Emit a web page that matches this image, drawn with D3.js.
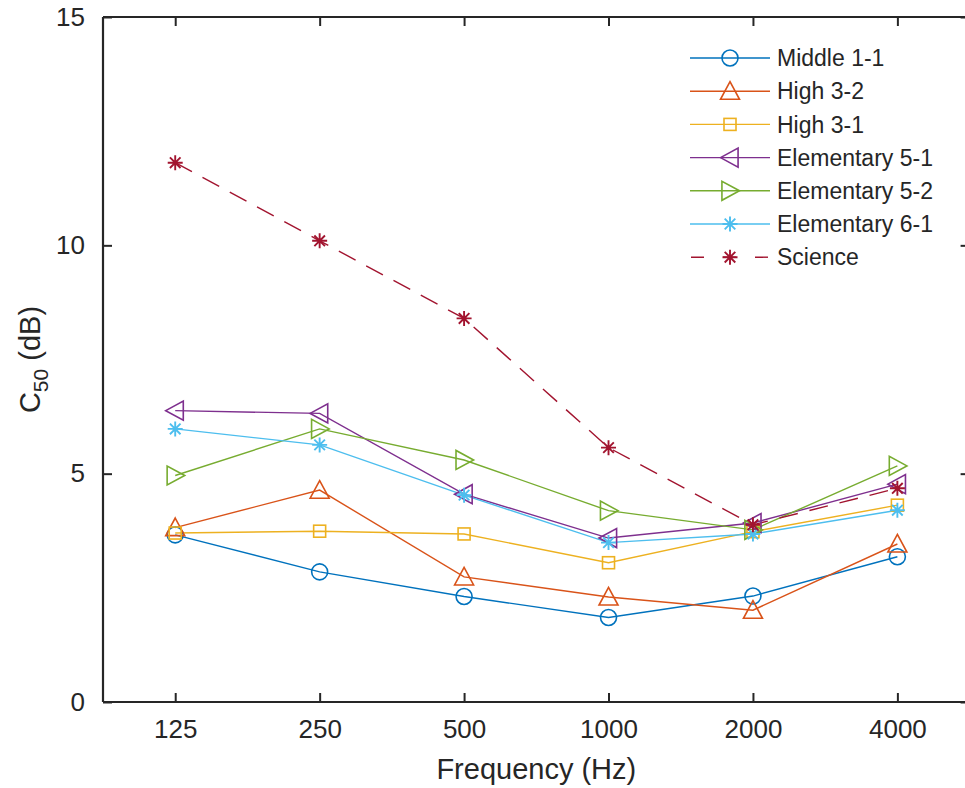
<!DOCTYPE html>
<html><head><meta charset="utf-8">
<script src="https://cdn.jsdelivr.net/npm/d3@7"></script>
<style>body{margin:0;background:#fff}svg{display:block}text{font-family:"Liberation Sans",Arial,sans-serif;fill:#262626}</style>
</head><body><svg id="c" width="965" height="788"></svg>
<script>
const categories = ["125","250","500","1000","2000","4000"];
const seriesNames = ["Middle 1-1","High 3-2","High 3-1","Elementary 5-1","Elementary 5-2","Elementary 6-1","Science"];
const middle11 = [3.66,2.85,2.31,1.85,2.32,3.18];
const high32 = [3.82,4.64,2.74,2.30,2.01,3.46];
const high31 = [3.70,3.74,3.68,3.05,3.73,4.31];
const elem51 = [6.38,6.32,4.55,3.59,3.92,4.77];
const elem52 = [4.96,5.98,5.30,4.19,3.77,5.17];
const elem61 = [5.98,5.63,4.53,3.49,3.68,4.20];
const science = [11.81,10.10,8.40,5.57,3.88,4.68];
const yTicks = [0,5,10,15];

const colors = ["#0072BD","#D95319","#EDB120","#7E2F8E","#77AC30","#4DBEEE","#A2142F"];
const markers = ["circle","triUp","square","triLeft","triRight","star","star"];
const dashes = [null,null,null,null,null,null,"19,12"];
const values = [middle11,high32,high31,elem51,elem52,elem61,science];

const svg = d3.select("#c");
const L=103, R=969.6, T=17, B=702;
const x = d3.scalePoint().domain(categories).range([L,R]).padding(0.5);
const y = d3.scaleLinear().domain([0,15]).range([B,T]);

function drawMarker(g, type, cx, cy, color){
  const sw=1.6;
  if(type==="circle"){
    g.append("circle").attr("cx",cx).attr("cy",cy).attr("r",8).attr("fill","none").attr("stroke",color).attr("stroke-width",sw);
  } else if(type==="square"){
    g.append("rect").attr("x",cx-6).attr("y",cy-6).attr("width",12).attr("height",12).attr("fill","none").attr("stroke",color).attr("stroke-width",sw);
  } else if(type==="triUp"){
    const s=9.5;
    g.append("path").attr("d",`M${cx},${cy-s}L${cx+s},${cy+s*0.85}L${cx-s},${cy+s*0.85}Z`).attr("fill","none").attr("stroke",color).attr("stroke-width",sw);
  } else if(type==="triLeft"){
    const s=9.5;
    g.append("path").attr("d",`M${cx-s},${cy}L${cx+s*0.85},${cy-s}L${cx+s*0.85},${cy+s}Z`).attr("fill","none").attr("stroke",color).attr("stroke-width",sw);
  } else if(type==="triRight"){
    const s=9.5;
    g.append("path").attr("d",`M${cx+s},${cy}L${cx-s*0.85},${cy-s}L${cx-s*0.85},${cy+s}Z`).attr("fill","none").attr("stroke",color).attr("stroke-width",sw);
  } else if(type==="star"){
    const r=7.5;
    let d="";
    for(let k=0;k<4;k++){
      const a=k*Math.PI/4;
      d+=`M${cx-r*Math.cos(a)},${cy-r*Math.sin(a)}L${cx+r*Math.cos(a)},${cy+r*Math.sin(a)}`;
    }
    g.append("path").attr("d",d).attr("fill","none").attr("stroke",color).attr("stroke-width",sw+0.3);
  }
}

// axes frame
const ax = svg.append("g");
ax.append("line").attr("x1",L).attr("x2",L).attr("y1",T).attr("y2",B).attr("stroke","#262626").attr("stroke-width",2.2);
ax.append("line").attr("x1",R).attr("x2",R).attr("y1",T).attr("y2",B).attr("stroke","#262626").attr("stroke-width",2.2);
ax.append("line").attr("x1",L).attr("x2",R).attr("y1",B).attr("y2",B).attr("stroke","#262626").attr("stroke-width",2.2);
ax.append("line").attr("x1",L).attr("x2",R).attr("y1",T).attr("y2",T).attr("stroke","#262626").attr("stroke-width",2.2);

const xAxis = d3.axisBottom(x).tickSizeInner(-9).tickSizeOuter(0).tickPadding(18);
const gx = svg.append("g").attr("transform",`translate(0,${B})`).call(xAxis);
gx.select(".domain").remove();
gx.selectAll("line").attr("stroke","#262626").attr("stroke-width",2);
gx.selectAll("text").attr("font-size",26).attr("fill","#262626").style("font-family","'Liberation Sans',Arial,sans-serif");
const gxt = svg.append("g").attr("transform",`translate(0,${T})`).call(d3.axisTop(x).tickSizeInner(-9).tickSizeOuter(0).tickFormat(""));
gxt.select(".domain").remove(); gxt.selectAll("line").attr("stroke","#262626").attr("stroke-width",2);

const yAxis = d3.axisLeft(y).tickValues(yTicks).tickSizeInner(-9).tickSizeOuter(0).tickPadding(18);
const gy = svg.append("g").attr("transform",`translate(${L},0)`).call(yAxis);
gy.select(".domain").remove();
gy.selectAll("line").attr("stroke","#262626").attr("stroke-width",2);
gy.selectAll("text").attr("font-size",26).attr("fill","#262626").style("font-family","'Liberation Sans',Arial,sans-serif");
const gyr = svg.append("g").attr("transform",`translate(${R},0)`).call(d3.axisRight(y).tickValues(yTicks).tickSizeInner(-9).tickSizeOuter(0).tickFormat(""));
gyr.select(".domain").remove(); gyr.selectAll("line").attr("stroke","#262626").attr("stroke-width",2);

// labels
svg.append("text").attr("x",(L+R)/2).attr("y",779).attr("text-anchor","middle").attr("font-size",29).text("Frequency (Hz)");
const yl = svg.append("text").attr("transform",`translate(40,${(T+B)/2}) rotate(-90)`).attr("text-anchor","middle").attr("font-size",29);
yl.append("tspan").text("C");
yl.append("tspan").attr("font-size",21).attr("dy",8).text("50");
yl.append("tspan").attr("dy",-8).text(" (dB)");

// series
const line = d3.line().x((d,i)=>x(categories[i])).y(d=>y(d));
const plot = svg.append("g");
values.forEach((vals,si)=>{
  const p = plot.append("path").datum(vals).attr("d",line).attr("fill","none").attr("stroke",colors[si]).attr("stroke-width",1.4);
  if(dashes[si]) p.attr("stroke-dasharray",dashes[si]);
});
values.forEach((vals,si)=>{
  const g = plot.append("g");
  vals.forEach((v,i)=>drawMarker(g,markers[si],x(categories[i]),y(v),colors[si]));
});

// legend
const lg = svg.append("g");
seriesNames.forEach((name,si)=>{
  const ly = 58 + si*33.2;
  const l = lg.append("line").attr("x1",690).attr("x2",770).attr("y1",ly).attr("y2",ly).attr("stroke",colors[si]).attr("stroke-width",1.4);
  if(dashes[si]) l.attr("stroke-dasharray","13,19").attr("stroke-dashoffset",-1);
  drawMarker(lg,markers[si],730,ly,colors[si]);
  lg.append("text").attr("x",777).attr("y",ly).attr("dy","0.36em").attr("font-size",23).attr("fill","#000").text(name);
});
</script></body></html>
